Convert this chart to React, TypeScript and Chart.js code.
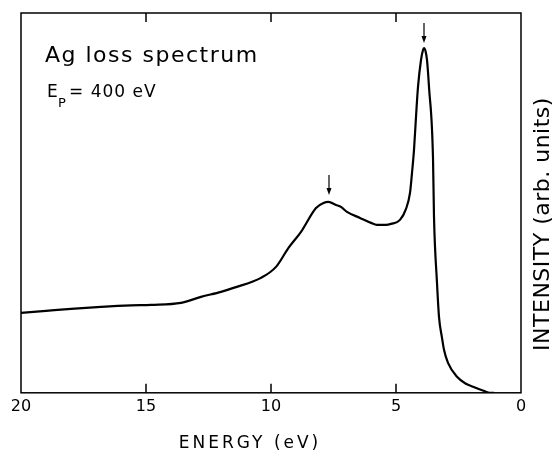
import React, { useEffect, useRef } from "react";
import { Chart, registerables } from "chart.js";

Chart.register(...registerables);

const energy = [20.0, 19.0, 18.0, 16.8, 15.6, 14.8, 13.6, 12.8, 12.0, 11.5, 10.4, 9.8, 9.3, 8.8, 8.2, 7.9, 7.7, 7.4, 7.2, 6.96, 6.44, 6.0, 5.76, 5.4, 5.2, 4.84, 4.6, 4.44, 4.36, 4.28, 4.2, 4.12, 4.0, 3.92, 3.88, 3.82, 3.76, 3.68, 3.52, 3.48, 3.36, 3.28, 3.16, 3.08, 2.92, 2.56, 2.2, 1.92, 1.5, 1.24, 1.08];
const intensity = [80, 82, 84, 86, 87.5, 88, 90, 96, 101, 105, 115, 126, 145, 161, 185, 190, 191, 188, 186, 181, 175, 170, 168, 168, 169, 173, 184, 200, 220, 243, 276, 306, 333, 343, 345, 342, 333, 306, 235, 176, 110, 76, 55, 43, 30, 16, 9, 6, 2, 0, 0];
const xTicks = [20, 15, 10, 5, 0];
const innerTicks = [15, 10, 5];
const arrowE = [7.68, 3.88];
const arrowTop = [218, 370];
const arrowBottom = [198, 350];

const FONT = "'DejaVu Sans', sans-serif";

const decor = {
  id: "decor",
  afterDraw(chart: any) {
    const { ctx, chartArea: a, scales } = chart;
    const xs = scales.x;
    const ys = scales.y;
    ctx.save();
    ctx.strokeStyle = "#000";
    ctx.lineWidth = 1.5;
    ctx.strokeRect(a.left, a.top, a.right - a.left, a.bottom - a.top);
    ctx.beginPath();
    innerTicks.forEach((v) => {
      const px = xs.getPixelForValue(v);
      ctx.moveTo(px, a.bottom);
      ctx.lineTo(px, a.bottom - 9);
      ctx.moveTo(px, a.top);
      ctx.lineTo(px, a.top + 9);
    });
    ctx.stroke();
    // arrows
    ctx.lineWidth = 1.2;
    arrowE.forEach((e, i) => {
      const px = xs.getPixelForValue(e);
      const y0 = ys.getPixelForValue(arrowTop[i]);
      const y1 = ys.getPixelForValue(arrowBottom[i]);
      ctx.beginPath();
      ctx.moveTo(px, y0);
      ctx.lineTo(px, y1 - 5);
      ctx.stroke();
      ctx.beginPath();
      ctx.moveTo(px - 2.5, y1 - 7);
      ctx.lineTo(px + 2.5, y1 - 7);
      ctx.lineTo(px, y1);
      ctx.closePath();
      ctx.fillStyle = "#000";
      ctx.fill();
    });
    // texts
    ctx.fillStyle = "#000";
    ctx.textBaseline = "alphabetic";
    ctx.textAlign = "left";
    (ctx as any).letterSpacing = "1.5px";
    ctx.font = `22px ${FONT}`;
    ctx.fillText("Ag loss spectrum", 45, 62);
    (ctx as any).letterSpacing = "1px";
    ctx.font = `17px ${FONT}`;
    ctx.fillText("E", 47, 97);
    ctx.font = `13px ${FONT}`;
    ctx.fillText("P", 58, 107);
    ctx.font = `17px ${FONT}`;
    ctx.fillText("= 400 eV", 69, 97);
    // x title
    (ctx as any).letterSpacing = "3px";
    ctx.font = `17px ${FONT}`;
    ctx.textAlign = "center";
    ctx.fillText("ENERGY (eV)", (xs.getPixelForValue(20) + xs.getPixelForValue(0)) / 2 - 21, 448);
    // y title
    (ctx as any).letterSpacing = "0.5px";
    ctx.font = `22px ${FONT}`;
    ctx.translate(549, 224);
    ctx.rotate(-Math.PI / 2);
    ctx.textAlign = "center";
    ctx.fillText("INTENSITY (arb. units)", 0, 0);
    ctx.restore();
  },
};

export default function App() {
  const ref = useRef<HTMLCanvasElement>(null);
  useEffect(() => {
    if (!ref.current) return;
    const chart = new Chart(ref.current, {
      type: "scatter",
      data: {
        datasets: [
          {
            data: energy.map((e, i) => ({ x: e, y: intensity[i] })),
            showLine: true,
            borderColor: "#000",
            borderWidth: 2.2,
            pointRadius: 0,
            cubicInterpolationMode: "monotone",
            fill: false,
          },
        ],
      },
      options: {
        animation: false,
        responsive: false,
        events: [],
        layout: { padding: { left: 21, right: 31, top: 13, bottom: 32 } },
        plugins: { legend: { display: false }, tooltip: { enabled: false } },
        scales: {
          x: {
            type: "linear",
            min: 0,
            max: 20,
            reverse: true,
            afterBuildTicks: (s: any) => {
              s.ticks = xTicks.map((v) => ({ value: v }));
            },
            grid: { display: false, drawTicks: false },
            border: { display: false },
            ticks: { color: "#000", font: { family: FONT, size: 16 }, padding: 4, maxRotation: 0, autoSkip: false },
          },
          y: {
            type: "linear",
            min: 0,
            max: 380,
            display: false,
          },
        },
      },
      plugins: [decor],
    });
    return () => chart.destroy();
  }, []);
  return (
    <div style={{ position: "fixed", left: 0, top: 0, width: 552, height: 452, background: "#fff" }}>
      <canvas ref={ref} width={552} height={452} />
    </div>
  );
}
